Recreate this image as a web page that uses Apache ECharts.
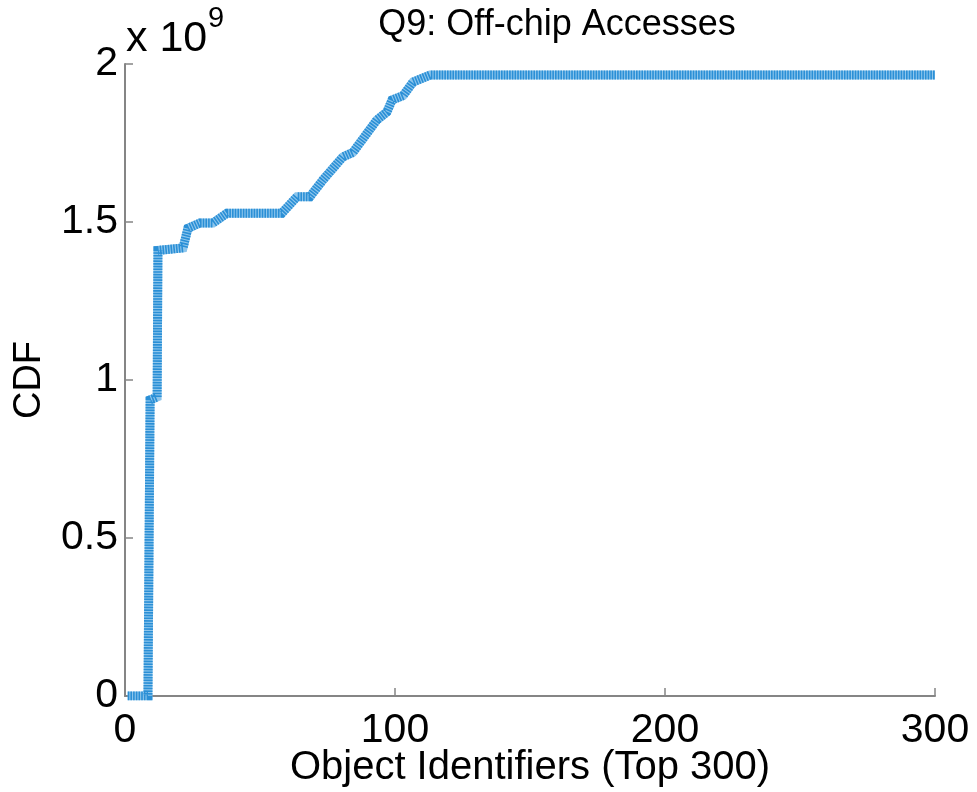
<!DOCTYPE html>
<html>
<head>
<meta charset="utf-8">
<title>Q9: Off-chip Accesses</title>
<script src="https://cdn.jsdelivr.net/npm/echarts@6/dist/echarts.min.js"></script>
<style>
  html, body { margin: 0; padding: 0; background: #fff; }
  #chart { width: 977px; height: 792px; }
</style>
</head>
<body>
<div id="chart"></div>
<script>
// object rank (x) and cumulative off-chip accesses in units of 1e9 (y)
const objectIds = [1, 8.5, 9.3, 11.9, 12.2, 21.5, 23.3, 27.8, 32.6, 37.8, 58.1, 63.7, 68.5, 73.3, 80.7, 84.4, 93.3, 97, 98.9, 103, 106.7, 113, 300];
const cdfValues = [0, 0, 0.937, 0.946, 1.41, 1.418, 1.48, 1.497, 1.497, 1.528, 1.528, 1.58, 1.58, 1.633, 1.706, 1.72, 1.823, 1.848, 1.886, 1.9, 1.943, 1.965, 1.965];
const xTicks = [0, 100, 200, 300];
const yTicks = [0, 0.5, 1, 1.5, 2];

const fontFamily = "'Liberation Sans', Arial, Helvetica, sans-serif";
const axisGray = "#858585";

const points = objectIds.map((x, i) => [x, cdfValues[i]]);

const chart = echarts.init(document.getElementById("chart"));

chart.setOption({
  backgroundColor: "#ffffff",
  animation: false,
  title: {
    text: "Q9: Off-chip Accesses",
    left: 552,
    top: 2,
    textAlign: "center",
    textStyle: {
      color: "#000",
      fontFamily,
      fontSize: 36,
      fontWeight: "normal"
    }
  },
  grid: {
    left: 125,
    right: 42,
    top: 64,
    bottom: 96,
    containLabel: false
  },
  xAxis: {
    type: "value",
    min: xTicks[0],
    max: xTicks[xTicks.length - 1],
    interval: 100,
    axisLine: { show: true, lineStyle: { color: axisGray, width: 2 } },
    axisTick: { show: true, inside: true, length: 8, lineStyle: { color: axisGray, width: 1.5 } },
    axisLabel: {
      color: "#000",
      fontFamily,
      fontSize: 41,
      margin: 14,
      formatter: (v) => (xTicks.includes(v) ? String(v) : "")
    },
    splitLine: { show: false }
  },
  yAxis: {
    type: "value",
    min: yTicks[0],
    max: yTicks[yTicks.length - 1],
    interval: 0.5,
    name: "CDF",
    nameLocation: "middle",
    nameGap: 76,
    nameRotate: 90,
    nameTextStyle: { color: "#000", fontFamily, fontSize: 38 },
    axisLine: { show: true, lineStyle: { color: axisGray, width: 2 } },
    axisTick: { show: true, inside: true, length: 8, lineStyle: { color: axisGray, width: 1.5 } },
    axisLabel: {
      color: "#000",
      fontFamily,
      fontSize: 41,
      margin: 7,
      formatter: (v) => String(v)
    },
    splitLine: { show: false }
  },
  graphic: [
    {
      type: "text",
      left: 126,
      top: 18,
      style: { text: "x 10", fill: "#000", font: `43px ${fontFamily}` }
    },
    {
      type: "text",
      left: 208,
      top: 4,
      style: { text: "9", fill: "#000", font: `29px ${fontFamily}` }
    },
    {
      // x axis title, placed by hand because the axis pushes its name below the labels
      type: "text",
      x: 530,
      y: 768,
      style: {
        text: "Object Identifiers (Top 300)",
        fill: "#000",
        font: `40px ${fontFamily}`,
        align: "center",
        verticalAlign: "middle"
      }
    }
  ],
  series: [
    {
      type: "line",
      data: points,
      showSymbol: false,
      z: 2,
      lineStyle: { color: "#8ec6ec", width: 9, cap: "butt", join: "miter" }
    },
    {
      type: "line",
      data: points,
      showSymbol: false,
      z: 3,
      lineStyle: { color: "#2a8fd6", width: 9, type: [1.6, 1.1], cap: "butt", join: "miter" }
    }
  ]
});
</script>
</body>
</html>
